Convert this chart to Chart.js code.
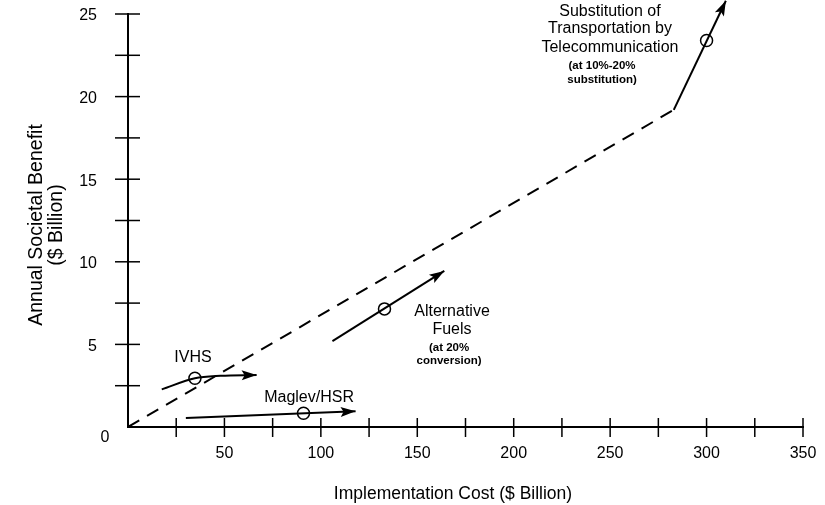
<!DOCTYPE html>
<html>
<head>
<meta charset="utf-8">
<script src="https://cdn.jsdelivr.net/npm/chart.js@4.4.1/dist/chart.umd.min.js"></script>
<style>
  html, body { margin: 0; padding: 0; background: #fff; }
</style>
</head>
<body>
<canvas id="chart" width="825" height="505"></canvas>
<script>
// ===== DATA =====
const TREND_X   = [0, 283];
const TREND_Y   = [0, 19.2];

const TELECOM_X = [283, 310];
const TELECOM_Y = [19.2, 25.8];

const IVHS_X    = [17.5, 34.7, 48, 66.7];
const IVHS_Y    = [2.28, 2.95, 3.1, 3.15];

const MAGLEV_X  = [30, 118];
const MAGLEV_Y  = [0.55, 0.95];

const FUELS_X   = [106, 164];
const FUELS_Y   = [5.2, 9.45];

// open circles marking each option's point estimate
const MARK_X    = [34.7, 91, 133, 300];
const MARK_Y    = [2.95, 0.83, 7.15, 23.4];

const X_LABELS  = [50, 100, 150, 200, 250, 300, 350];
const Y_LABELS  = [5, 10, 15, 20, 25];

const X_TITLE   = 'Implementation Cost ($ Billion)';
const Y_TITLE   = ['Annual Societal Benefit', '($ Billion)'];

// text notes, placed in data units
const NOTES = [
  { text: 'Substitution of',     x: 249.9, y: 25.12, small: false },
  { text: 'Transportation by',   x: 249.9, y: 24.09, small: false },
  { text: 'Telecommunication',   x: 249.9, y: 22.94, small: false },
  { text: '(at 10%-20%',         x: 245.8, y: 21.85, small: true  },
  { text: 'substitution)',       x: 245.8, y: 21.0,  small: true  },
  { text: 'IVHS',                x: 33.7,  y: 4.18,  small: false },
  { text: 'Maglev/HSR',          x: 93.9,  y: 1.76,  small: false },
  { text: 'Alternative',         x: 168,   y: 6.96,  small: false },
  { text: 'Fuels',               x: 168,   y: 5.87,  small: false },
  { text: '(at 20%',             x: 166.5, y: 4.78,  small: true  },
  { text: 'conversion)',         x: 166.5, y: 3.99,  small: true  },
];

const FONT = '"Liberation Sans", Arial, sans-serif';
const INK  = '#000';

const pts = (xs, ys) => xs.map((x, i) => ({ x, y: ys[i] }));

// ======== CUSTOM DRAWING ========
const extras = {
  id: 'extras',
  afterDatasetsDraw(chart) {
    const ctx = chart.ctx;
    // arrowheads at the end of flagged series
    chart.data.datasets.forEach((ds, i) => {
      if (!ds.arrow) return;
      const els  = chart.getDatasetMeta(i).data;
      const end  = els[els.length - 1];
      const prev = els[els.length - 2];
      let fx = prev.x, fy = prev.y;
      if (end.cp1x !== undefined && Math.hypot(end.cp1x - end.x, end.cp1y - end.y) > 1) {
        fx = end.cp1x; fy = end.cp1y;
      }
      const ang = Math.atan2(end.y - fy, end.x - fx);
      const len = 15, half = 5;
      ctx.save();
      ctx.fillStyle = INK;
      ctx.translate(end.x, end.y);
      ctx.rotate(ang);
      ctx.beginPath();
      ctx.moveTo(0, 0);
      ctx.lineTo(-len, -half);
      ctx.lineTo(-len + 3, 0);
      ctx.lineTo(-len, half);
      ctx.closePath();
      ctx.fill();
      ctx.restore();
    });
  },
  afterDraw(chart) {
    const ctx = chart.ctx;
    const xs = chart.scales.x, ys = chart.scales.y;
    const x0 = xs.getPixelForValue(0), y0 = ys.getPixelForValue(0);

    ctx.save();
    ctx.strokeStyle = INK;
    ctx.lineWidth = 1.5;
    // crossing tick marks
    xs.ticks.forEach(t => {
      if (t.value === 0) return;
      const px = xs.getPixelForValue(t.value);
      ctx.beginPath();
      ctx.moveTo(px, y0 - 9);
      ctx.lineTo(px, y0 + 10);
      ctx.stroke();
    });
    ys.ticks.forEach(t => {
      if (t.value === 0) return;
      const py = ys.getPixelForValue(t.value);
      ctx.beginPath();
      ctx.moveTo(x0 - 13, py);
      ctx.lineTo(x0 + 12, py);
      ctx.stroke();
    });

    ctx.fillStyle = INK;
    ctx.textBaseline = 'middle';

    // tick labels
    ctx.font = '16px ' + FONT;
    ctx.textAlign = 'center';
    X_LABELS.forEach(v => ctx.fillText(String(v), xs.getPixelForValue(v), y0 + 27));
    ctx.textAlign = 'right';
    Y_LABELS.forEach(v => ctx.fillText(String(v), x0 - 31, ys.getPixelForValue(v) + 2));

    // shared origin label
    ctx.textAlign = 'center';
    ctx.fillText('0', x0 - 23, y0 + 11);

    // axis titles
    ctx.font = '17.5px ' + FONT;
    ctx.fillText(X_TITLE, 453, 494);

    ctx.save();
    ctx.font = '19.5px ' + FONT;
    ctx.translate(0, 225);
    ctx.rotate(-Math.PI / 2);
    ctx.fillText(Y_TITLE[0], 0, 37);
    ctx.fillText(Y_TITLE[1], 0, 57);
    ctx.restore();

    // notes
    NOTES.forEach(n => {
      ctx.font = (n.small ? 'bold 11.5px ' : '16px ') + FONT;
      ctx.fillText(n.text, xs.getPixelForValue(n.x), ys.getPixelForValue(n.y));
    });
    ctx.restore();
  },
};

// ======== CHART ========
const lineStyle = { borderColor: INK, borderWidth: 2, pointRadius: 0, fill: false, showLine: true };

new Chart(document.getElementById('chart'), {
  type: 'scatter',
  data: {
    datasets: [
      { ...lineStyle, data: pts(TREND_X, TREND_Y), borderDash: [13, 9] },
      { ...lineStyle, data: pts(TELECOM_X, TELECOM_Y), arrow: true, clip: false },
      { ...lineStyle, data: pts(IVHS_X, IVHS_Y), arrow: true, cubicInterpolationMode: 'monotone' },
      { ...lineStyle, data: pts(MAGLEV_X, MAGLEV_Y), arrow: true },
      { ...lineStyle, data: pts(FUELS_X, FUELS_Y), arrow: true },
      {
        data: pts(MARK_X, MARK_Y),
        showLine: false,
        pointRadius: 6,
        pointBorderWidth: 1.5,
        pointBorderColor: INK,
        pointBackgroundColor: 'rgba(0,0,0,0)',
        clip: false,
      },
    ],
  },
  options: {
    responsive: false,
    animation: false,
    layout: { padding: { top: 14, right: 22, left: 0, bottom: 0 } },
    plugins: { legend: { display: false }, tooltip: { enabled: false } },
    scales: {
      x: {
        type: 'linear', min: 0, max: 350,
        grid: { display: false, drawTicks: false },
        border: { color: INK, width: 2 },
        ticks: { display: false, stepSize: 25 },
        afterFit: s => { s.height = 78; },
      },
      y: {
        min: 0, max: 25,
        grid: { display: false, drawTicks: false },
        border: { color: INK, width: 2 },
        ticks: { display: false, stepSize: 2.5 },
        afterFit: s => { s.width = 128; },
      },
    },
  },
  plugins: [extras],
});
</script>
</body>
</html>
